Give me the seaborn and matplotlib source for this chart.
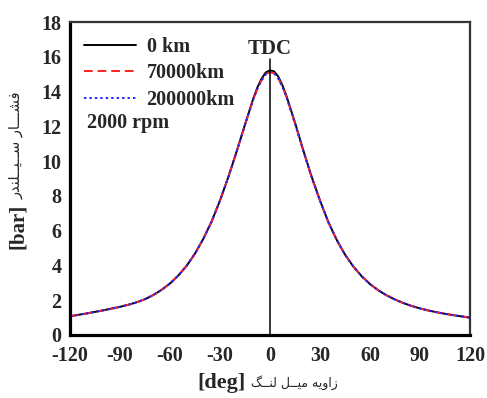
import matplotlib
matplotlib.use("Agg")
import matplotlib.pyplot as plt
import seaborn as sns
import pandas as pd
from matplotlib.ticker import MultipleLocator

# ---- data ----
crank_angle = [-120, -115, -110, -105, -100, -95, -90, -85, -80, -75, -70, -65, -60,
               -55, -50, -45, -40, -35, -30, -25, -20, -15, -10, -7.5, -5, -2.5, 0,
               2.5, 5, 7.5, 10, 15, 20, 25, 30, 35, 40, 45, 50, 55, 60, 65, 70, 75,
               80, 85, 90, 95, 100, 105, 110, 115, 120]
p_0km = [1.08, 1.16, 1.24, 1.33, 1.42, 1.52, 1.62, 1.74, 1.88, 2.06, 2.30, 2.60, 2.96,
         3.42, 3.98, 4.68, 5.53, 6.53, 7.73, 9.08, 10.55, 12.10, 13.60, 14.25, 14.75, 15.10, 15.22,
         15.16, 14.86, 14.36, 13.72, 12.22, 10.62, 9.10, 7.74, 6.50, 5.48, 4.63, 3.94, 3.38, 2.93, 2.57, 2.28, 2.04,
         1.84, 1.67, 1.53, 1.41, 1.31, 1.22, 1.14, 1.07, 1.00]
p_70000km = [1.08, 1.16, 1.24, 1.33, 1.42, 1.52, 1.62, 1.74, 1.88, 2.06, 2.30, 2.60, 2.96,
             3.42, 3.98, 4.68, 5.53, 6.53, 7.73, 9.08, 10.55, 12.08, 13.56, 14.18, 14.66, 15.00, 15.12,
             15.06, 14.76, 14.28, 13.66, 12.18, 10.60, 9.08, 7.72, 6.49, 5.47, 4.62, 3.94, 3.38, 2.93, 2.57, 2.28, 2.04,
             1.84, 1.67, 1.53, 1.41, 1.31, 1.22, 1.14, 1.07, 1.00]
p_200000km = [1.08, 1.16, 1.24, 1.33, 1.42, 1.52, 1.62, 1.74, 1.88, 2.06, 2.30, 2.60, 2.96,
              3.42, 3.98, 4.68, 5.53, 6.53, 7.73, 9.08, 10.55, 12.07, 13.55, 14.17, 14.65, 14.99, 15.11,
              15.05, 14.75, 14.27, 13.65, 12.17, 10.59, 9.08, 7.72, 6.49, 5.47, 4.62, 3.94, 3.38, 2.93, 2.57, 2.28, 2.04,
              1.84, 1.67, 1.53, 1.41, 1.31, 1.22, 1.14, 1.07, 1.00]
series_labels = ["0 km", "70000km", "200000km"]
x_ticks = [-120, -90, -60, -30, 0, 30, 60, 90, 120]
y_ticks = [0, 2, 4, 6, 8, 10, 12, 14, 16, 18]

# Persian labels (presentation forms in visual order)
ylabel_fa = ("\uFEAD\uFEAA\uFEE8\uFEE0\u0640\u0640\uFBFF\u0640\u0640\uFEB3 "
             "\uFEAD\uFE8E\u0640\u0640\u0640\uFEB8\uFED3")
xlabel_fa = ("\uFB93\u0640\u0640\uFEE8\uFEDF" + " " +
             "\uFEDE\u0640\u0640\uFBFF\uFEE3" + " " +
             "\uFEEA\uFBFE\uFEED\uFE8D\uFEAF")

df = pd.DataFrame({
    "angle": crank_angle * 3,
    "pressure": p_0km + p_70000km + p_200000km,
    "series": [series_labels[0]] * len(crank_angle) + [series_labels[1]] * len(crank_angle)
              + [series_labels[2]] * len(crank_angle),
})

sns.set_style("white")
plt.rcParams["font.family"] = ["Liberation Serif", "DejaVu Sans"]
plt.rcParams["axes.unicode_minus"] = False

fig = plt.figure(figsize=(4.87, 3.98), dpi=100)
ax = fig.add_axes([0.1437, 0.1583, 0.8213, 0.7864])

colors = {"0 km": "black", "70000km": "#ff2020", "200000km": "#2020ff"}
styles = {"0 km": "-", "70000km": (0, (4.5, 2.5)), "200000km": (0, (1.2, 1.6))}
for s in series_labels:
    sub = df[df["series"] == s]
    sns.lineplot(data=sub, x="angle", y="pressure", ax=ax, color=colors[s],
                 linestyle=styles[s], linewidth=1.4, label=s, sort=False)

# TDC line
ax.plot([0, 0], [0, 15.9], color="black", linewidth=1.1)
ax.text(0, 16.45, "TDC", ha="center", va="center", fontsize=15, fontweight="bold",
        family="Liberation Serif")

ax.set_xlim(-120, 120)
ax.set_ylim(0, 18)
ax.set_xticks(x_ticks)
ax.set_yticks(y_ticks)
ax.xaxis.set_minor_locator(MultipleLocator(15))
ax.yaxis.set_minor_locator(MultipleLocator(1))
ax.tick_params(axis="both", which="major", direction="in", length=8, width=2,
               labelsize=14.5, top=False, right=False)
ax.tick_params(axis="y", which="major", pad=6)
ax.tick_params(axis="x", which="major", pad=8)
ax.tick_params(axis="both", which="minor", direction="in", length=4.5, width=1.8,
               top=False, right=False)
for lab in ax.get_xticklabels() + ax.get_yticklabels():
    lab.set_fontweight("bold")
for side in ["left", "bottom"]:
    ax.spines[side].set_linewidth(2.3)
    ax.spines[side].set_color("black")
for side in ["top", "right"]:
    ax.spines[side].set_linewidth(1.6)
    ax.spines[side].set_color("#333333")
ax.set_xlabel("")
ax.set_ylabel("")

leg = ax.legend(loc="upper left", frameon=False, handlelength=2.6,
                prop={"family": "Liberation Serif", "weight": "bold", "size": 14.5},
                labelspacing=0.32, borderaxespad=0.3, handletextpad=0.5,
                bbox_to_anchor=(0.0, 0.997))
ax.text(0.043, 0.678, "2000 rpm", transform=ax.transAxes, ha="left", va="center",
        fontsize=14.5, fontweight="bold", family="Liberation Serif")

# axis labels
fig.text(0.455, 0.038, "[deg]", ha="center", va="center", fontsize=16,
         fontweight="bold", family="Liberation Serif")
fig.text(0.515, 0.038, xlabel_fa, ha="left", va="center", fontsize=9,
         family="DejaVu Sans")
fig.text(0.036, 0.432, "[bar]", ha="center", va="center", fontsize=15,
         fontweight="bold", rotation=90, family="Liberation Serif")
fig.text(0.034, 0.50, ylabel_fa, ha="center", va="bottom", fontsize=10.5,
         rotation=90, family="DejaVu Sans")

fig.savefig("out.png", dpi=100)
